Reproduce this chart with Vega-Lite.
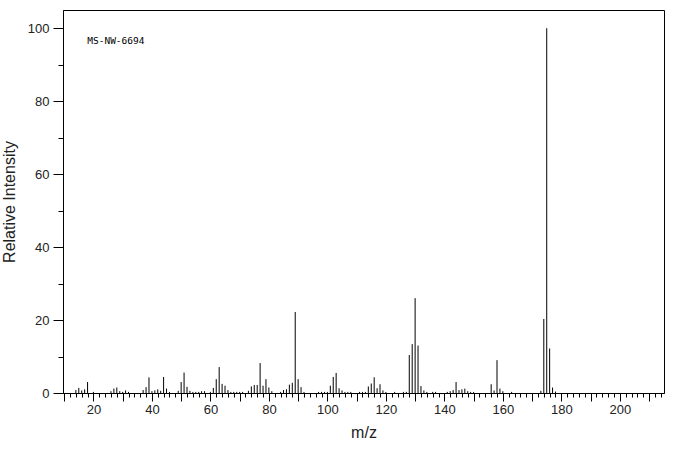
{
  "$schema": "https://vega.github.io/schema/vega-lite/v6.json",
  "autosize": "none",
  "width": 601,
  "height": 383,
  "padding": {"left": 63, "top": 10, "right": 12, "bottom": 62},
  "background": "white",
  "config": {
    "view": {"stroke": "black", "strokeWidth": 1},
    "axis": {"grid": false, "domainColor": "black", "tickColor": "black", "labelColor": "#222", "titleColor": "#222", "labelFont": "Liberation Sans", "titleFont": "Liberation Sans", "titleFontWeight": "normal"}
  },
  "datasets": {
    "peaks": [
      {"mz":14,"intensity":0.8},{"mz":15,"intensity":1.4},{"mz":16,"intensity":0.7},{"mz":17,"intensity":1.0},{"mz":18,"intensity":3.0},{"mz":20,"intensity":0.3},
      {"mz":26,"intensity":0.5},{"mz":27,"intensity":1.2},{"mz":28,"intensity":1.5},{"mz":29,"intensity":0.5},{"mz":30,"intensity":0.3},{"mz":31,"intensity":0.7},{"mz":32,"intensity":0.3},
      {"mz":37,"intensity":0.8},{"mz":38,"intensity":1.6},{"mz":39,"intensity":4.3},{"mz":40,"intensity":0.5},{"mz":41,"intensity":0.7},{"mz":42,"intensity":1.0},{"mz":43,"intensity":0.6},{"mz":44,"intensity":4.4},{"mz":45,"intensity":1.2},{"mz":46,"intensity":0.3},
      {"mz":49,"intensity":0.6},{"mz":50,"intensity":3.0},{"mz":51,"intensity":5.6},{"mz":52,"intensity":1.7},{"mz":53,"intensity":0.6},{"mz":54,"intensity":0.3},{"mz":55,"intensity":0.3},{"mz":56,"intensity":0.3},{"mz":57,"intensity":0.5},{"mz":58,"intensity":0.5},
      {"mz":60,"intensity":0.3},{"mz":61,"intensity":1.4},{"mz":62,"intensity":3.8},{"mz":63,"intensity":7.1},{"mz":64,"intensity":2.5},{"mz":65,"intensity":2.0},{"mz":66,"intensity":0.8},{"mz":67,"intensity":0.3},{"mz":68,"intensity":0.3},{"mz":69,"intensity":0.3},{"mz":70,"intensity":0.3},{"mz":71,"intensity":0.3},
      {"mz":73,"intensity":0.6},{"mz":74,"intensity":1.8},{"mz":75,"intensity":2.2},{"mz":76,"intensity":2.2},{"mz":77,"intensity":8.2},{"mz":78,"intensity":2.0},{"mz":79,"intensity":3.8},{"mz":80,"intensity":1.5},{"mz":81,"intensity":0.5},
      {"mz":84,"intensity":0.3},{"mz":85,"intensity":0.8},{"mz":86,"intensity":1.0},{"mz":87,"intensity":2.3},{"mz":88,"intensity":2.8},{"mz":89,"intensity":22.2},{"mz":90,"intensity":3.8},{"mz":91,"intensity":1.6},{"mz":92,"intensity":0.3},
      {"mz":97,"intensity":0.3},{"mz":98,"intensity":0.3},{"mz":99,"intensity":0.3},{"mz":100,"intensity":0.3},{"mz":101,"intensity":2.0},{"mz":102,"intensity":4.4},{"mz":103,"intensity":5.5},{"mz":104,"intensity":1.3},{"mz":105,"intensity":0.7},{"mz":106,"intensity":0.3},{"mz":107,"intensity":0.3},{"mz":108,"intensity":0.3},
      {"mz":111,"intensity":0.3},{"mz":112,"intensity":0.3},{"mz":113,"intensity":0.3},{"mz":114,"intensity":1.8},{"mz":115,"intensity":2.6},{"mz":116,"intensity":4.3},{"mz":117,"intensity":1.3},{"mz":118,"intensity":2.4},{"mz":119,"intensity":0.7},{"mz":120,"intensity":0.3},
      {"mz":123,"intensity":0.3},{"mz":126,"intensity":0.3},{"mz":127,"intensity":0.3},{"mz":128,"intensity":10.4},{"mz":129,"intensity":13.4},{"mz":130,"intensity":26.0},{"mz":131,"intensity":13.0},{"mz":132,"intensity":1.9},{"mz":133,"intensity":0.7},{"mz":134,"intensity":0.3},{"mz":136,"intensity":0.3},{"mz":137,"intensity":0.3},
      {"mz":141,"intensity":0.3},{"mz":142,"intensity":0.5},{"mz":143,"intensity":0.8},{"mz":144,"intensity":3.0},{"mz":145,"intensity":0.8},{"mz":146,"intensity":1.0},{"mz":147,"intensity":1.2},{"mz":148,"intensity":0.5},{"mz":149,"intensity":0.3},{"mz":150,"intensity":0.3},
      {"mz":156,"intensity":2.4},{"mz":157,"intensity":0.7},{"mz":158,"intensity":9.0},{"mz":159,"intensity":1.2},{"mz":160,"intensity":0.5},{"mz":163,"intensity":0.3},
      {"mz":173,"intensity":0.6},{"mz":174,"intensity":20.3},{"mz":175,"intensity":100},{"mz":176,"intensity":12.2},{"mz":177,"intensity":1.5},{"mz":178,"intensity":0.4}
    ],
    "note": [{"mz": 17.9, "intensity": 96.5, "label": "MS-NW-6694"}]
  },
  "layer": [
    {
      "data": {"name": "peaks"},
      "mark": {"type": "rule", "color": "black", "strokeWidth": 1},
      "encoding": {
        "x": {
          "field": "mz", "type": "quantitative",
          "scale": {"domain": [9.6, 215.1], "nice": false, "zero": false},
          "axis": {
            "orient": "bottom",
            "values": [10,20,30,40,50,60,70,80,90,100,110,120,130,140,150,160,170,180,190,200,210],
            "labelExpr": "datum.value % 20 === 0 ? datum.label : ''",
            "tickSize": 8, "labelPadding": 2, "labelFontSize": 13,
            "title": "m/z", "titleFontSize": 16, "titlePadding": 8
          }
        },
        "y": {
          "field": "intensity", "type": "quantitative",
          "scale": {"domain": [0, 105], "nice": false},
          "axis": {
            "orient": "left",
            "values": [0,20,40,60,80,100],
            "tickSize": 10, "labelPadding": 4, "labelFontSize": 13,
            "title": "Relative Intensity", "titleFontSize": 16, "titlePadding": 10
          }
        },
        "y2": {"datum": 0}
      }
    },
    {
      "data": {"name": "note"},
      "mark": {"type": "text", "align": "left", "baseline": "middle", "font": "DejaVu Sans Mono", "fontSize": 9.5, "color": "black"},
      "encoding": {
        "x": {
          "field": "mz", "type": "quantitative",
          "axis": {
            "orient": "bottom",
            "values": [10,12,14,16,18,20,22,24,26,28,30,32,34,36,38,40,42,44,46,48,50,52,54,56,58,60,62,64,66,68,70,72,74,76,78,80,82,84,86,88,90,92,94,96,98,100,102,104,106,108,110,112,114,116,118,120,122,124,126,128,130,132,134,136,138,140,142,144,146,148,150,152,154,156,158,160,162,164,166,168,170,172,174,176,178,180,182,184,186,188,190,192,194,196,198,200,202,204,206,208,210,212,214],
            "labels": false, "domain": false, "tickSize": 4, "title": null
          }
        },
        "y": {
          "field": "intensity", "type": "quantitative",
          "axis": {
            "orient": "left",
            "values": [10,30,50,70,90],
            "labels": false, "domain": false, "tickSize": 5, "title": null
          }
        },
        "text": {"field": "label"}
      }
    }
  ],
  "resolve": {"axis": {"x": "independent", "y": "independent"}}
}
